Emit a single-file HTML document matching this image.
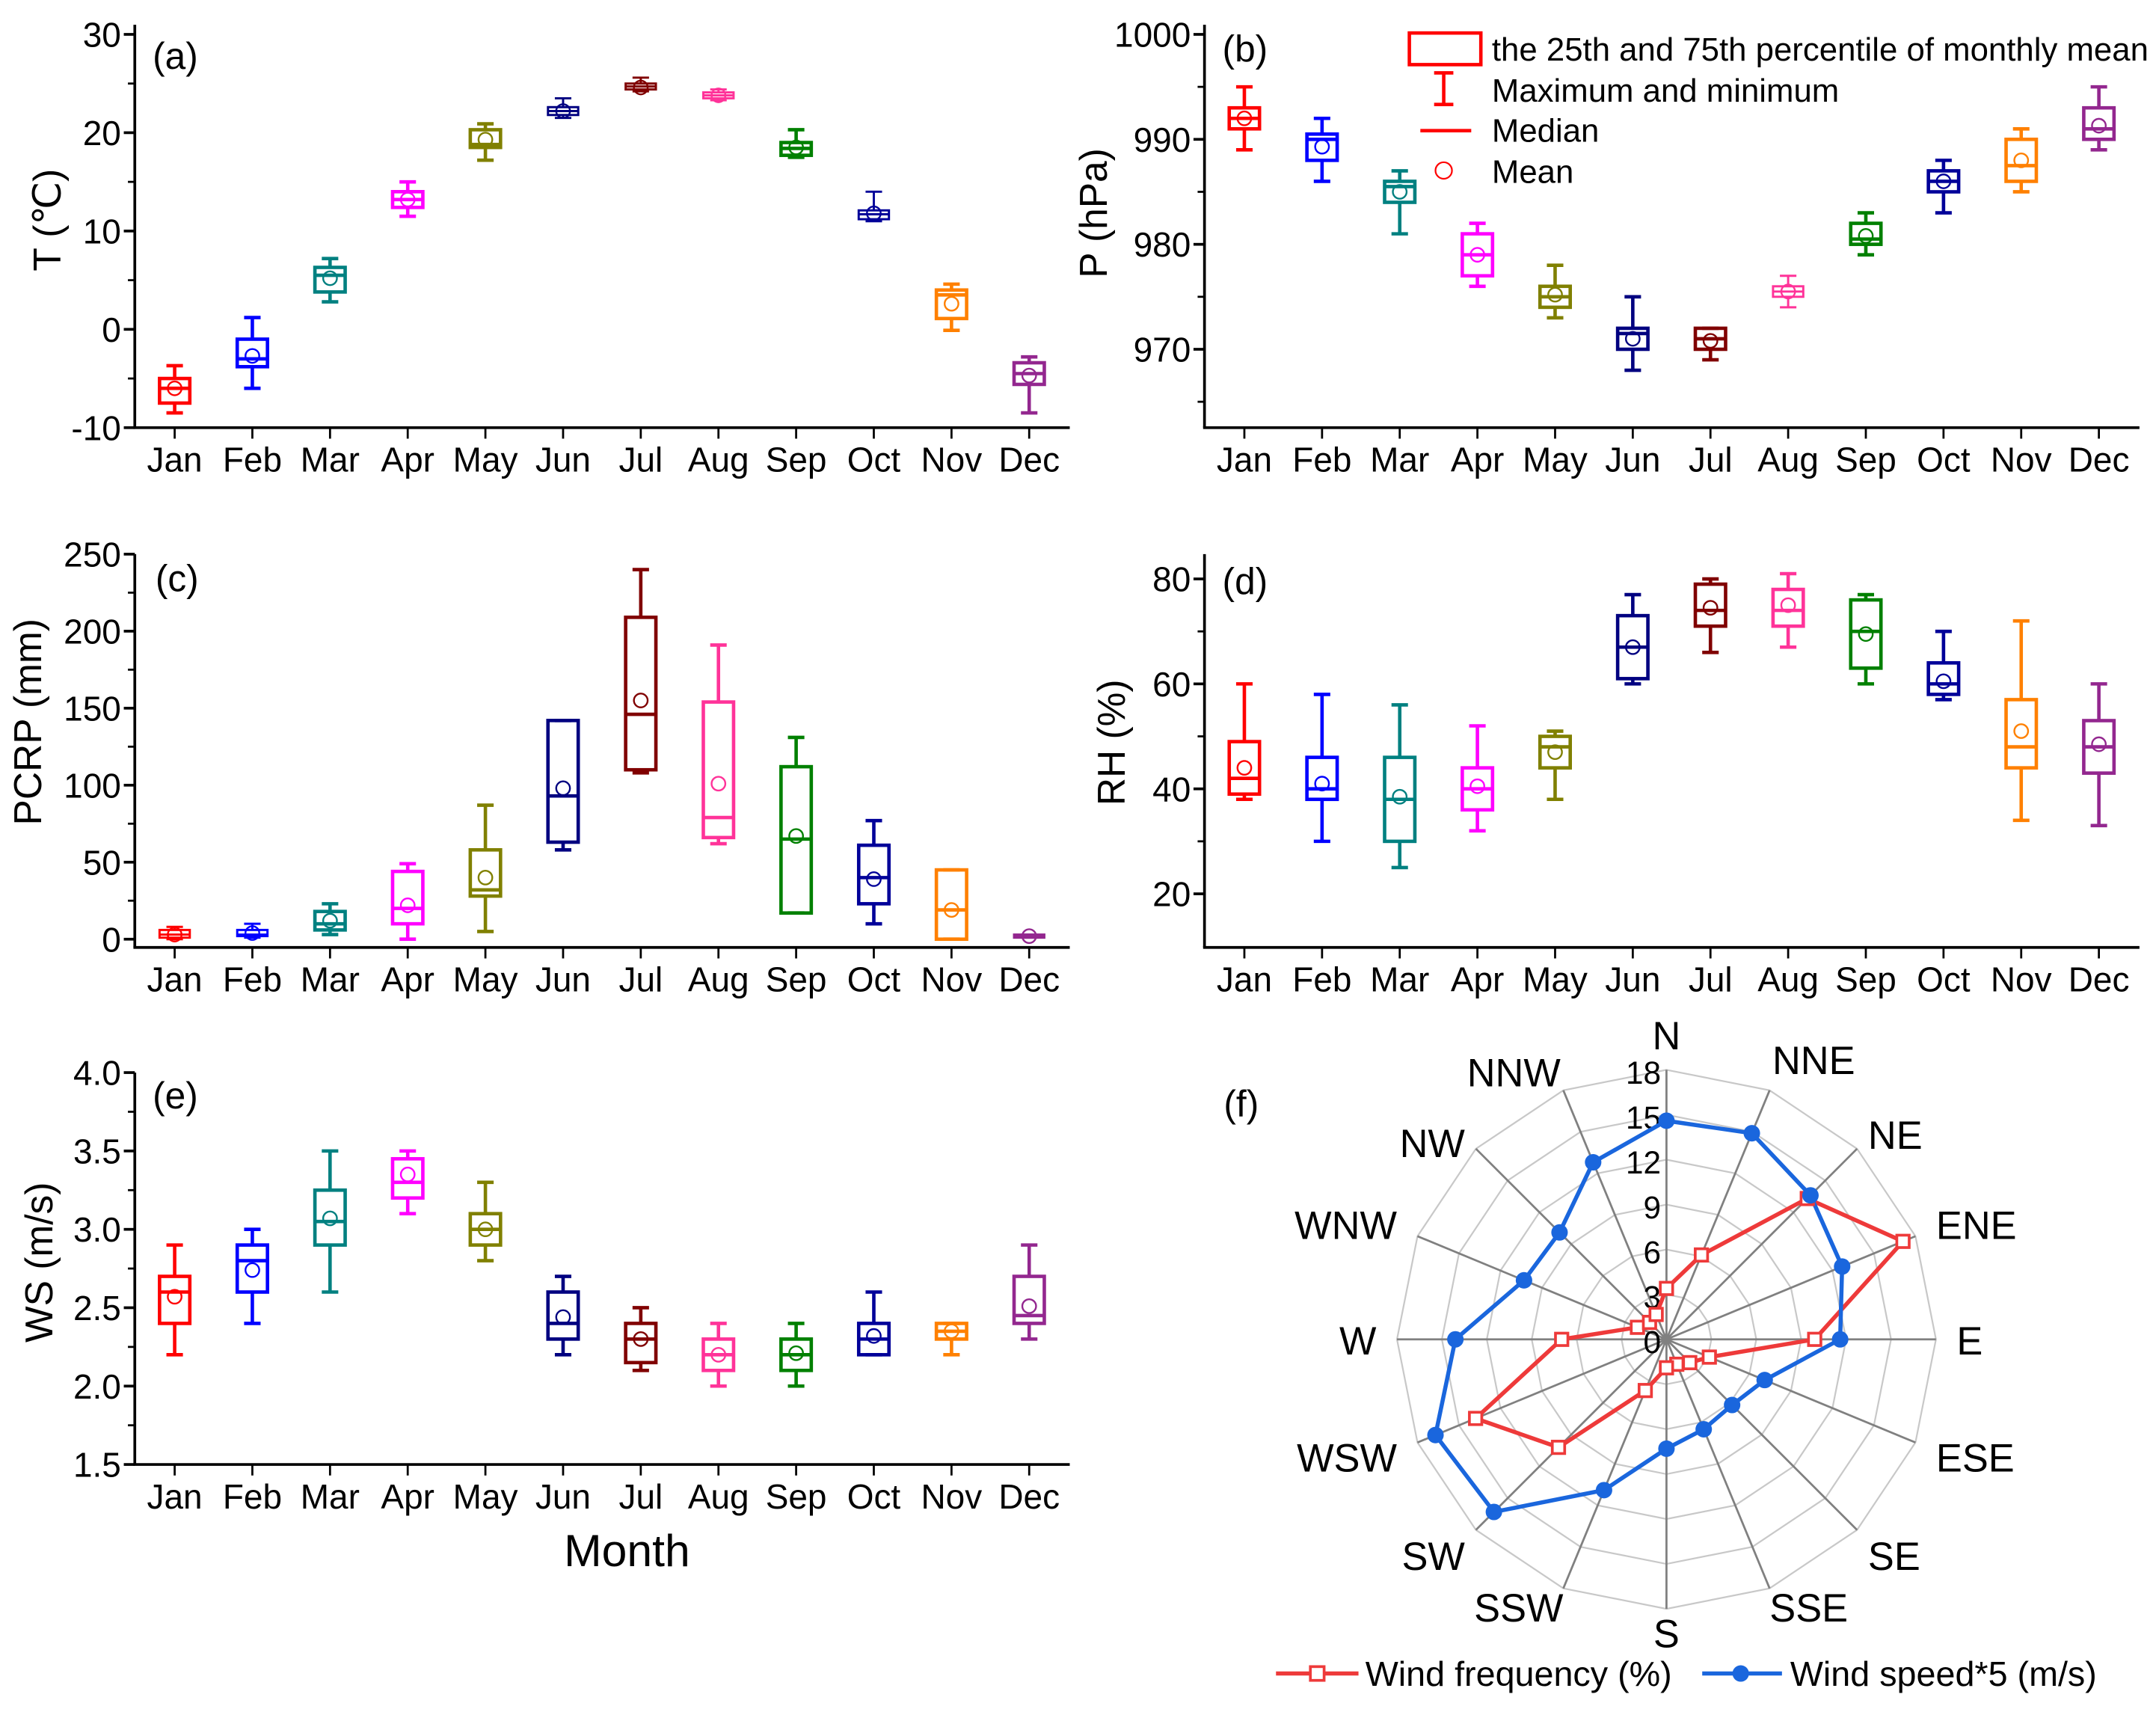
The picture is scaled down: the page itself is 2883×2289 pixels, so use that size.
<!DOCTYPE html>
<html><head><meta charset="utf-8"><style>
html,body{margin:0;padding:0;background:#fff}
svg{display:block}
text{font-family:"Liberation Sans",Arial,sans-serif;fill:#000}
</style></head><body>
<svg id="fig" width="2883" height="2289" viewBox="0 0 1568 1245" xmlns="http://www.w3.org/2000/svg">
<rect width="1568" height="1245" fill="#fff"/>
</svg>
<script>
const months=["Jan","Feb","Mar","Apr","May","Jun","Jul","Aug","Sep","Oct","Nov","Dec"];
const colors=["#FF0000","#0000FF","#008080","#FF00FF","#808000","#000080","#800000","#FF3399","#008000","#000099","#FF8000","#93278F"];
// [min,q1,median,q3,max,mean]
const tempData=[[-8.5,-7.5,-6,-5,-3.7,-6],[-6,-3.8,-3,-1,1.2,-2.7],[2.8,3.8,5.5,6.3,7.2,5.2],[11.5,12.4,13.2,14,15,13.2],[17.2,18.5,18.8,20.3,20.9,19.3],[21.5,21.8,22.2,22.6,23.5,22.2],[24.2,24.4,24.7,25,25.6,24.6],[23.3,23.5,23.8,24.1,24.4,23.8],[17.5,17.7,18.4,19,20.3,18.5],[11,11.2,11.7,12.1,14,11.8],[-0.1,1.1,3.5,4,4.6,2.6],[-8.5,-5.6,-4.5,-3.4,-2.8,-4.7]];
const presData=[[989,991,992,993,995,992],[986,988,990,990.5,992,989.3],[981,984,985.5,986,987,985],[976,977,979,981,982,979],[973,974,975,976,978,975.2],[968,970,971.5,972,975,971],[969,970,971,972,972,970.8],[974,975,975.5,976,977,975.5],[979,980,980.5,982,983,980.8],[983,985,986,987,988,986],[985,986,987.5,990,991,988],[989,990,991,993,995,991.3]];
const precData=[[0,1,3,6,8,3],[1,2,3,6,10,4],[3,6,10,18,23,12],[0,10,20,44,49,22],[5,28,32,58,87,40],[58,63,93,142,142,98],[108,110,146,209,240,155],[62,66,79,154,191,101],[17,17,65,112,131,67],[10,23,40,61,77,39],[0,0,19,45,45,19],[1,1,2,3,3,2]];
const rhData=[[38,39,42,49,60,44],[30,38,40,46,58,41],[25,30,38,46,56,38.5],[32,36,40,44,52,40.5],[38,44,48,50,51,47],[60,61,67,73,77,67],[66,71,74,79,80,74.5],[67,71,74,78,81,75],[60,63,70,76,77,69.5],[57,58,60,64,70,60.5],[34,44,48,57,72,51],[33,43,48,53,60,48.5]];
const wsData=[[2.2,2.4,2.6,2.7,2.9,2.57],[2.4,2.6,2.8,2.9,3.0,2.74],[2.6,2.9,3.05,3.25,3.5,3.07],[3.1,3.2,3.3,3.45,3.5,3.35],[2.8,2.9,3.0,3.1,3.3,3.0],[2.2,2.3,2.4,2.6,2.7,2.44],[2.1,2.15,2.3,2.4,2.5,2.3],[2.0,2.1,2.2,2.3,2.4,2.2],[2.0,2.1,2.2,2.3,2.4,2.21],[2.2,2.2,2.3,2.4,2.6,2.32],[2.2,2.3,2.35,2.4,2.4,2.35],[2.3,2.4,2.45,2.7,2.9,2.51]];
const tempTicks=[30,20,10,0,-10];
const presTicks=[1000,990,980,970];
const precTicks=[250,200,150,100,50,0];
const rhTicks=[80,60,40,20];
const wsTicks=["4.0","3.5","3.0","2.5","2.0","1.5"];
const dirs=["N","NNE","NE","ENE","E","ESE","SE","SSE","S","SSW","SW","WSW","W","WNW","NW","NNW"];
const windFreq=[3.4,6.1,13.3,17.1,9.9,3.1,2.2,1.8,1.9,3.7,10.2,13.8,7.0,2.1,1.6,1.8];
const windSpeed5=[14.6,14.9,13.6,12.7,11.6,7.1,6.2,6.5,7.3,10.9,16.3,16.7,14.1,10.3,10.1,12.8];
const radarTicks=[0,3,6,9,12,15,18];

const NS="http://www.w3.org/2000/svg";
const svg=document.getElementById('fig');
function el(tag,attrs,parent){const e=document.createElementNS(NS,tag);for(const k in attrs)e.setAttribute(k,attrs[k]);(parent||svg).appendChild(e);return e;}
function txt(s,x,y,size,anchor,parent,extra){const t=el('text',Object.assign({x:x,y:y,'font-size':size,'text-anchor':anchor||'start'},extra||{}),parent);t.textContent=s;return t;}

function panel(o){
  const g=el('g',{});
  
  
  const ys=v=>o.y0+(o.vmax-v)*(o.y1-o.y0)/(o.vmax-o.vmin);
  const xs=i=>o.xFirst+i*o.dx;
  const ax=el('g',{},g);
  
  
  el('line',{x1:o.xl,y1:o.axTop,x2:o.xl,y2:o.axBot,stroke:'#000','stroke-width':2},ax);
  o.ticks.forEach(t=>{const v=parseFloat(t);const y=ys(v);
    el('line',{x1:o.xl-8,y1:y,x2:o.xl,y2:y,stroke:'#000','stroke-width':2},ax);
    const lab=txt(String(t),o.xl-10,y+9,25,'end',ax);
    
    
  });
  o.minor.forEach(v=>{const y=ys(v);el('line',{x1:o.xl-5,y1:y,x2:o.xl,y2:y,stroke:'#000','stroke-width':1.5},ax);});
  const xa=el('g',{},g);
  
  
  el('line',{x1:o.xl-1,y1:o.axBot,x2:o.xr,y2:o.axBot,stroke:'#000','stroke-width':2},xa);
  months.forEach((m,i)=>{const x=xs(i);
    el('line',{x1:x,y1:o.axBot,x2:x,y2:o.axBot+8,stroke:'#000','stroke-width':1.5},xa);
    const l=txt(m,x,o.axBot+32,25,'middle',xa);
    
    
  });
  const yt=txt(o.ytitle,0,0,28,'middle',g,{transform:`translate(${o.ytx},${o.yty}) rotate(-90)`});
  
  
  const pl=txt(o.label,o.labX,o.labY,27,'start',g);
  
  
  o.data.forEach((d,i)=>{
    const c=colors[i],x=xs(i),w=11,cw=6;
    const thin=(ys(d[1])-ys(d[3]))<9;
    const b=el('g',{stroke:c,fill:'none','stroke-width':thin?1.6:2.5},g);
    
    
    el('line',{x1:x,y1:ys(d[4]),x2:x,y2:ys(d[3])},b);
    el('line',{x1:x,y1:ys(d[1]),x2:x,y2:ys(d[0])},b);
    el('line',{x1:x-cw,y1:ys(d[4]),x2:x+cw,y2:ys(d[4])},b);
    el('line',{x1:x-cw,y1:ys(d[0]),x2:x+cw,y2:ys(d[0])},b);
    el('rect',{x:x-w,y:ys(d[3]),width:2*w,height:Math.max(1,ys(d[1])-ys(d[3]))},b);
    el('line',{x1:x-w,y1:ys(d[2]),x2:x+w,y2:ys(d[2])},b);
    el('circle',{cx:x,cy:ys(d[5]),r:5,'stroke-width':1.3},b);
  });
}
panel({name:'panel-a-temperature',data:tempData,ticks:tempTicks,minor:[25,15,5,-5],vmax:30,vmin:-10,y0:25,y1:311,axTop:18,axBot:311,xl:98,xr:778,xFirst:127,dx:56.5,ytitle:'T (℃)',ytx:44,yty:160,label:'(a)',labX:111,labY:50});
panel({name:'panel-b-pressure',data:presData,ticks:presTicks,minor:[995,985,975,965],vmax:1000,vmin:970,y0:25,y1:254,axTop:18,axBot:311,xl:876,xr:1556,xFirst:905,dx:56.5,ytitle:'P (hPa)',ytx:805,yty:155,label:'(b)',labX:889,labY:45});
panel({name:'panel-c-precipitation',data:precData,ticks:precTicks,minor:[225,175,125,75,25],vmax:250,vmin:0,y0:403,y1:683,axTop:403,axBot:689,xl:98,xr:778,xFirst:127,dx:56.5,ytitle:'PCRP (mm)',ytx:30,yty:525,label:'(c)',labX:113,labY:430});
panel({name:'panel-d-humidity',data:rhData,ticks:rhTicks,minor:[70,50,30],vmax:80,vmin:20,y0:421,y1:650,axTop:403,axBot:689,xl:876,xr:1556,xFirst:905,dx:56.5,ytitle:'RH (%)',ytx:818,yty:540,label:'(d)',labX:889,labY:432});
panel({name:'panel-e-wind-speed',data:wsData,ticks:wsTicks,minor:[3.75,3.25,2.75,2.25,1.75],vmax:4.0,vmin:1.5,y0:780,y1:1065,axTop:780,axBot:1065,xl:98,xr:778,xFirst:127,dx:56.5,ytitle:'WS (m/s)',ytx:38,yty:918,label:'(e)',labX:111,labY:806});
const mt=txt('Month',456,1139,33,'middle');



const lg=el('g',{});


el('rect',{x:1025,y:24,width:52,height:23,fill:'none',stroke:'#f00','stroke-width':2.5},lg);
txt('the 25th and 75th percentile of monthly mean',1085,44,23.8,'start',lg);
el('line',{x1:1050,y1:53,x2:1050,y2:76,stroke:'#f00','stroke-width':2.5},lg);
el('line',{x1:1043,y1:53,x2:1057,y2:53,stroke:'#f00','stroke-width':2.5},lg);
el('line',{x1:1043,y1:76,x2:1057,y2:76,stroke:'#f00','stroke-width':2.5},lg);
txt('Maximum and minimum',1085,74,23.8,'start',lg);
el('line',{x1:1033,y1:95,x2:1070,y2:95,stroke:'#f00','stroke-width':2.5},lg);
txt('Median',1085,103,23.8,'start',lg);
el('circle',{cx:1050,cy:124,r:6,fill:'none',stroke:'#f00','stroke-width':1.2},lg);
txt('Mean',1085,133,23.8,'start',lg);

// radar (f)
const cx=1212,cy=974,R=196,rmax=18;
const rg=el('g',{});


const fl=txt('(f)',890,812,27,'start',rg);


const ang=i=>(-90+i*22.5)*Math.PI/180;
const pt=(i,v)=>[cx+Math.cos(ang(i))*v/rmax*R, cy+Math.sin(ang(i))*v/rmax*R];
radarTicks.slice(1).forEach(t=>{
  const p=dirs.map((d,i)=>pt(i,t).join(',')).join(' ');
  el('polygon',{points:p,fill:'none',stroke:'#c8c8c8','stroke-width':1.2},rg);
});
const labOff=[[0,-15,'middle'],[2,-12,'start'],[8,0,'start'],[15,2,'start'],[15,11,'start'],[15,21,'start'],[8,29,'start'],[0,24,'start'],[0,28,'middle'],[0,24,'end'],[-8,29,'end'],[-15,21,'end'],[-15,11,'end'],[-15,2,'end'],[-8,6,'end'],[-2,-3,'end']];
dirs.forEach((d,i)=>{
  const e=pt(i,rmax);
  el('line',{x1:cx,y1:cy,x2:e[0],y2:e[1],stroke:'#808080','stroke-width':1.5},rg);
  const of=labOff[i];
  const l=txt(d,e[0]+of[0],e[1]+of[1],28.5,of[2],rg);
  
  
});
radarTicks.forEach(t=>{
  const l=txt(String(t),cx-4,cy-t/rmax*R+10,23,'end',rg);
  
  
});
const fPts=windFreq.map((v,i)=>pt(i,v));
const sPts=windSpeed5.map((v,i)=>pt(i,v));
const fl1=el('polygon',{points:fPts.map(p=>p.join(',')).join(' '),fill:'none',stroke:'#EE3A3A','stroke-width':3},rg);


const sl=el('polygon',{points:sPts.map(p=>p.join(',')).join(' '),fill:'none',stroke:'#1A66DD','stroke-width':3},rg);


fPts.forEach(p=>{const m=el('rect',{x:p[0]-4.5,y:p[1]-4.5,width:9,height:9,fill:'#fff',stroke:'#EE3A3A','stroke-width':2},rg);
  
  });
sPts.forEach(p=>{const m=el('circle',{cx:p[0],cy:p[1],r:6,fill:'#1A66DD'},rg);
  
  });
const rl=el('g',{},rg);


el('line',{x1:928,y1:1217,x2:988,y2:1217,stroke:'#EE3A3A','stroke-width':3},rl);
el('rect',{x:953,y:1212,width:10,height:10,fill:'#fff',stroke:'#EE3A3A','stroke-width':2},rl);
txt('Wind frequency (%)',993,1226,25.4,'start',rl);
el('line',{x1:1238,y1:1217,x2:1296,y2:1217,stroke:'#1A66DD','stroke-width':3},rl);
el('circle',{cx:1266,cy:1217,r:6,fill:'#1A66DD'},rl);
txt('Wind speed*5 (m/s)',1302,1226,25.4,'start',rl);
</script>
</body></html>
